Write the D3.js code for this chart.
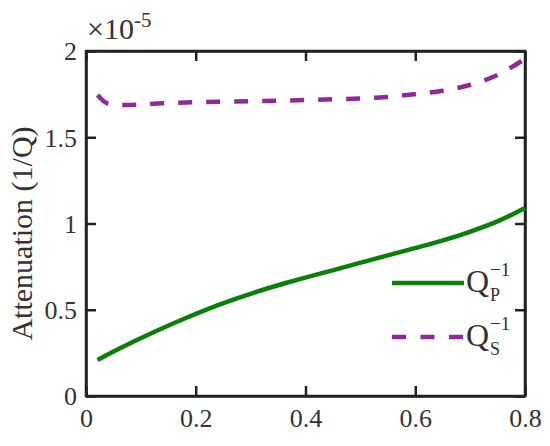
<!DOCTYPE html>
<html><head><meta charset="utf-8">
<script src="https://cdn.jsdelivr.net/npm/d3@7"></script>
<style>body{margin:0;background:#fff}svg{display:block}text{font-family:"Liberation Serif",serif;fill:#333}</style>
</head><body>
<script>
const xP = [0.021,0.061,0.122,0.182,0.243,0.304,0.364,0.398,0.451,0.511,0.572,0.633,0.694,0.754,0.8];
const qP = [0.209,0.275,0.368,0.452,0.530,0.597,0.655,0.685,0.730,0.782,0.834,0.886,0.946,1.018,1.090];
const xS = [0.021,0.039,0.067,0.140,0.243,0.346,0.450,0.547,0.598,0.650,0.699,0.750,0.8];
const qS = [1.745,1.697,1.687,1.697,1.706,1.712,1.720,1.733,1.749,1.770,1.803,1.861,1.955];
const xTicks = [0,0.2,0.4,0.6,0.8];
const yTicks = [0,0.5,1,1.5,2];
const yTickLabels = ["0","0.5","1","1.5","2"];
const xTickLabels = ["0","0.2","0.4","0.6","0.8"];

const W=550,H=446;
const L=86,R=525,T=51,B=396;
const svg=d3.select("body").append("svg").attr("width",W).attr("height",H);
const x=d3.scaleLinear().domain([0,0.8]).range([L,R]);
const y=d3.scaleLinear().domain([0,2]).range([B,T]);

const axCol="#222";
const fs=26;
const gx=svg.append("g").attr("transform",`translate(0,${B})`)
 .call(d3.axisBottom(x).tickValues(xTicks).tickFormat((d,i)=>xTickLabels[i]).tickSizeInner(-10).tickSizeOuter(0).tickPadding(13));
const gy=svg.append("g").attr("transform",`translate(${L},0)`)
 .call(d3.axisLeft(y).tickValues(yTicks).tickFormat((d,i)=>yTickLabels[i]).tickSizeInner(-10).tickSizeOuter(0).tickPadding(9));
const gt=svg.append("g").attr("transform",`translate(0,${T})`)
 .call(d3.axisTop(x).tickValues(xTicks).tickFormat("").tickSizeInner(-10).tickSizeOuter(0));
const gr=svg.append("g").attr("transform",`translate(${R},0)`)
 .call(d3.axisRight(y).tickValues(yTicks).tickFormat("").tickSizeInner(-10).tickSizeOuter(0));
[gx,gy,gt,gr].forEach(g=>{
  g.attr("font-family",null).attr("font-size",null);
  g.selectAll(".domain").attr("stroke",axCol).attr("stroke-width",2.5);
  g.selectAll(".tick line").attr("stroke",axCol).attr("stroke-width",2.5);
  g.selectAll(".tick text").attr("fill","#333").style("font-size",fs+"px");
});
gy.selectAll(".tick text").attr("dy","0.34em");
svg.append("rect").attr("x",L).attr("y",T).attr("width",R-L).attr("height",B-T)
 .attr("fill","none").attr("stroke",axCol).attr("stroke-width",2.5);

// exponent
const ex=svg.append("text").attr("x",87).attr("y",39).style("font-size","30px");
ex.append("tspan").text("×10");
ex.append("tspan").attr("dy",-12).style("font-size","21px").text("-5");

// y label
svg.append("text").attr("transform",`translate(32,${(T+B)/2+10}) rotate(-90)`)
 .attr("text-anchor","middle").style("font-size","30px").text("Attenuation (1/Q)");

const green="#0a800a", purple="#8e2a98";
const line=d3.line().x(d=>x(d[0])).y(d=>y(d[1])).curve(d3.curveMonotoneX);
svg.append("path").datum(xP.map((v,i)=>[v,qP[i]])).attr("d",line)
 .attr("fill","none").attr("stroke",green).attr("stroke-width",4.5);
svg.append("path").datum(xS.map((v,i)=>[v,qS[i]])).attr("d",line)
 .attr("fill","none").attr("stroke",purple).attr("stroke-width",4.5).attr("stroke-dasharray","14,14");

// legend
const lg=svg.append("g");
lg.append("line").attr("x1",392).attr("x2",464).attr("y1",283).attr("y2",283).attr("stroke",green).attr("stroke-width",4.5);
lg.append("line").attr("x1",392).attr("x2",464).attr("y1",337).attr("y2",337).attr("stroke",purple).attr("stroke-width",4.5).attr("stroke-dasharray","14,14.5");
function qlab(yb,sub){
  lg.append("text").attr("x",466).attr("y",yb).style("font-size","32px").text("Q");
  lg.append("text").attr("x",490).attr("y",yb-16).style("font-size","19px").text("−1");
  lg.append("text").attr("x",490).attr("y",yb+9).style("font-size","18px").text(sub);
}
qlab(292,"P");
qlab(346,"S");
</script>
</body></html>
